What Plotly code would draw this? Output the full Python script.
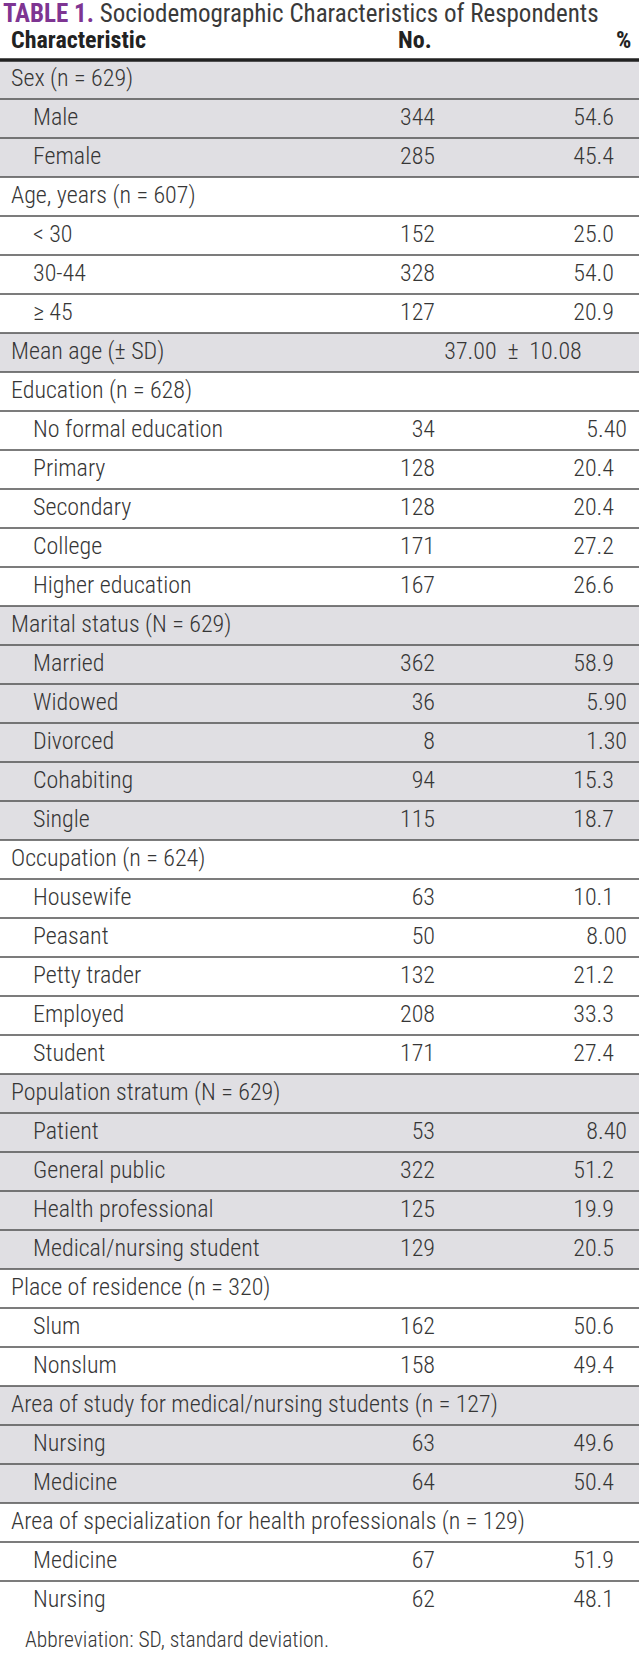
import plotly.graph_objects as go

# ---------------- data ----------------
labels = [
    "Sex (n = 629)", "Male", "Female",
    "Age, years (n = 607)", "< 30", "30-44", "≥ 45",
    "Mean age (± SD)",
    "Education (n = 628)", "No formal education", "Primary", "Secondary", "College", "Higher education",
    "Marital status (N = 629)", "Married", "Widowed", "Divorced", "Cohabiting", "Single",
    "Occupation (n = 624)", "Housewife", "Peasant", "Petty trader", "Employed", "Student",
    "Population stratum (N = 629)", "Patient", "General public", "Health professional", "Medical/nursing student",
    "Place of residence (n = 320)", "Slum", "Nonslum",
    "Area of study for medical/nursing students (n = 127)", "Nursing", "Medicine",
    "Area of specialization for health professionals (n = 129)", "Medicine", "Nursing",
]
indent = [
    0, 1, 1,
    0, 1, 1, 1,
    0,
    0, 1, 1, 1, 1, 1,
    0, 1, 1, 1, 1, 1,
    0, 1, 1, 1, 1, 1,
    0, 1, 1, 1, 1,
    0, 1, 1,
    0, 1, 1,
    0, 1, 1,
]
counts = [
    None, 344, 285,
    None, 152, 328, 127,
    None,
    None, 34, 128, 128, 171, 167,
    None, 362, 36, 8, 94, 115,
    None, 63, 50, 132, 208, 171,
    None, 53, 322, 125, 129,
    None, 162, 158,
    None, 63, 64,
    None, 67, 62,
]
percents = [
    "", "54.6", "45.4",
    "", "25.0", "54.0", "20.9",
    "",
    "", "5.40", "20.4", "20.4", "27.2", "26.6",
    "", "58.9", "5.90", "1.30", "15.3", "18.7",
    "", "10.1", "8.00", "21.2", "33.3", "27.4",
    "", "8.40", "51.2", "19.9", "20.5",
    "", "50.6", "49.4",
    "", "49.6", "50.4",
    "", "51.9", "48.1",
]
shaded = [
    1, 1, 1,
    0, 0, 0, 0,
    1,
    0, 0, 0, 0, 0, 0,
    1, 1, 1, 1, 1, 1,
    0, 0, 0, 0, 0, 0,
    1, 1, 1, 1, 1,
    0, 0, 0,
    1, 1, 1,
    0, 0, 0,
]
mean_age_row = 7
mean_age_text = "37.00\u2002±\u200210.08"
col_headers = ["Characteristic", "No.", "%"]
title_bold = "TABLE 1."
title_rest = "Sociodemographic Characteristics of Respondents"
footnote = "Abbreviation: SD, standard deviation."

# ---------------- styling ----------------
W, H = 639, 1660
ROW_H = 39.0
TOP = 60.0
FONT = "Liberation Sans Narrow, Roboto Condensed, Arial Narrow, Liberation Sans, sans-serif"
TXT = "#363636"
FILL = "#e0dfe3"
LINE = "#505050"
PURPLE = "#7e3592"
FS = 24

n = len(labels)
y_top = -0.5 - TOP / ROW_H
y_bot = y_top + H / ROW_H
rows = list(range(n))

def px_to_y(p):
    return y_top + p / ROW_H

X_LABEL0, X_LABEL1 = 11, 33
X_NO = 435
X_PCT = 614
DIGIT = 13

fig = go.Figure()

# background fills
sh_rows = [r for r in rows if shaded[r]]
fig.add_trace(go.Bar(
    orientation="h", y=sh_rows, x=[W] * len(sh_rows), base=0, width=1.0,
    marker=dict(color=FILL, line=dict(width=0)), hoverinfo="skip", showlegend=False,
))

# separator lines between rows
lx, ly = [], []
for r in rows[:-1]:
    lx += [0, W, None]
    ly += [r + 0.5, r + 0.5, None]
fig.add_trace(go.Scatter(x=lx, y=ly, mode="lines", line=dict(color=LINE, width=1.6),
                         hoverinfo="skip", showlegend=False))
# header rule
fig.add_trace(go.Scatter(x=[0, W], y=[-0.5, -0.5], mode="lines", line=dict(color="#222222", width=3.5),
                         hoverinfo="skip", showlegend=False))

tf = dict(family=FONT, size=FS, color=TXT, weight=300)

# labels
fig.add_trace(go.Scatter(
    x=[X_LABEL1 if indent[r] else X_LABEL0 for r in rows], y=rows, text=labels,
    mode="text", textposition="middle right",
    textfont=tf, hoverinfo="skip", showlegend=False,
))
# counts
cr = [r for r in rows if counts[r] is not None]
fig.add_trace(go.Scatter(
    x=[X_NO] * len(cr), y=cr, text=[str(counts[r]) for r in cr],
    mode="text", textposition="middle left",
    textfont=tf, hoverinfo="skip", showlegend=False,
))
# percents (decimal aligned)
pr = [r for r in rows if percents[r]]
px = [X_PCT + (DIGIT if len(percents[r].split(".")[1]) == 2 else 0) for r in pr]
fig.add_trace(go.Scatter(
    x=px, y=pr, text=[percents[r] for r in pr],
    mode="text", textposition="middle left",
    textfont=tf, hoverinfo="skip", showlegend=False,
))
# mean age spanning value
fig.add_trace(go.Scatter(
    x=[513], y=[mean_age_row], text=[mean_age_text],
    mode="text", textposition="middle center",
    textfont=tf, hoverinfo="skip", showlegend=False,
))

annotations = [
    dict(x=0, y=px_to_y(13), xref="paper", yref="y", xanchor="left", yanchor="middle", showarrow=False,
         xshift=1,
         text=f"<b><span style='color:{PURPLE}'>{title_bold}</span></b> {title_rest}",
         font=dict(family=FONT, size=25, color="#3a3a3a")),
    dict(x=0, y=px_to_y(40), xref="paper", yref="y", xanchor="left", yanchor="middle", showarrow=False,
         xshift=9,
         text=f"<b>{col_headers[0]}</b>", font=dict(family=FONT, size=FS, color="#222222")),
    dict(x=434, y=px_to_y(40), xref="x", yref="y", xanchor="right", yanchor="middle", showarrow=False,
         text=f"<b>{col_headers[1]}</b>", font=dict(family=FONT, size=FS, color="#222222")),
    dict(x=633, y=px_to_y(40), xref="x", yref="y", xanchor="right", yanchor="middle", showarrow=False,
         text=f"<b>{col_headers[2]}</b>", font=dict(family=FONT, size=FS, color="#222222")),
    dict(x=23, y=px_to_y(1639), xref="x", yref="y", xanchor="left", yanchor="middle", showarrow=False,
         text=footnote, font=dict(family=FONT, size=21.5, color=TXT, weight=300)),
]

fig.update_layout(
    width=W, height=H, margin=dict(l=0, r=0, t=0, b=0),
    paper_bgcolor="white", plot_bgcolor="white",
    xaxis=dict(range=[0, W], visible=False, fixedrange=True),
    yaxis=dict(range=[y_bot, y_top], visible=False, fixedrange=True),
    bargap=0, showlegend=False, hovermode=False,
    annotations=annotations,
)

fig.write_html(
    "out.html",
    config={"displayModeBar": False},
    post_script="document.body.style.margin='0px';document.body.style.overflow='hidden';",
)
